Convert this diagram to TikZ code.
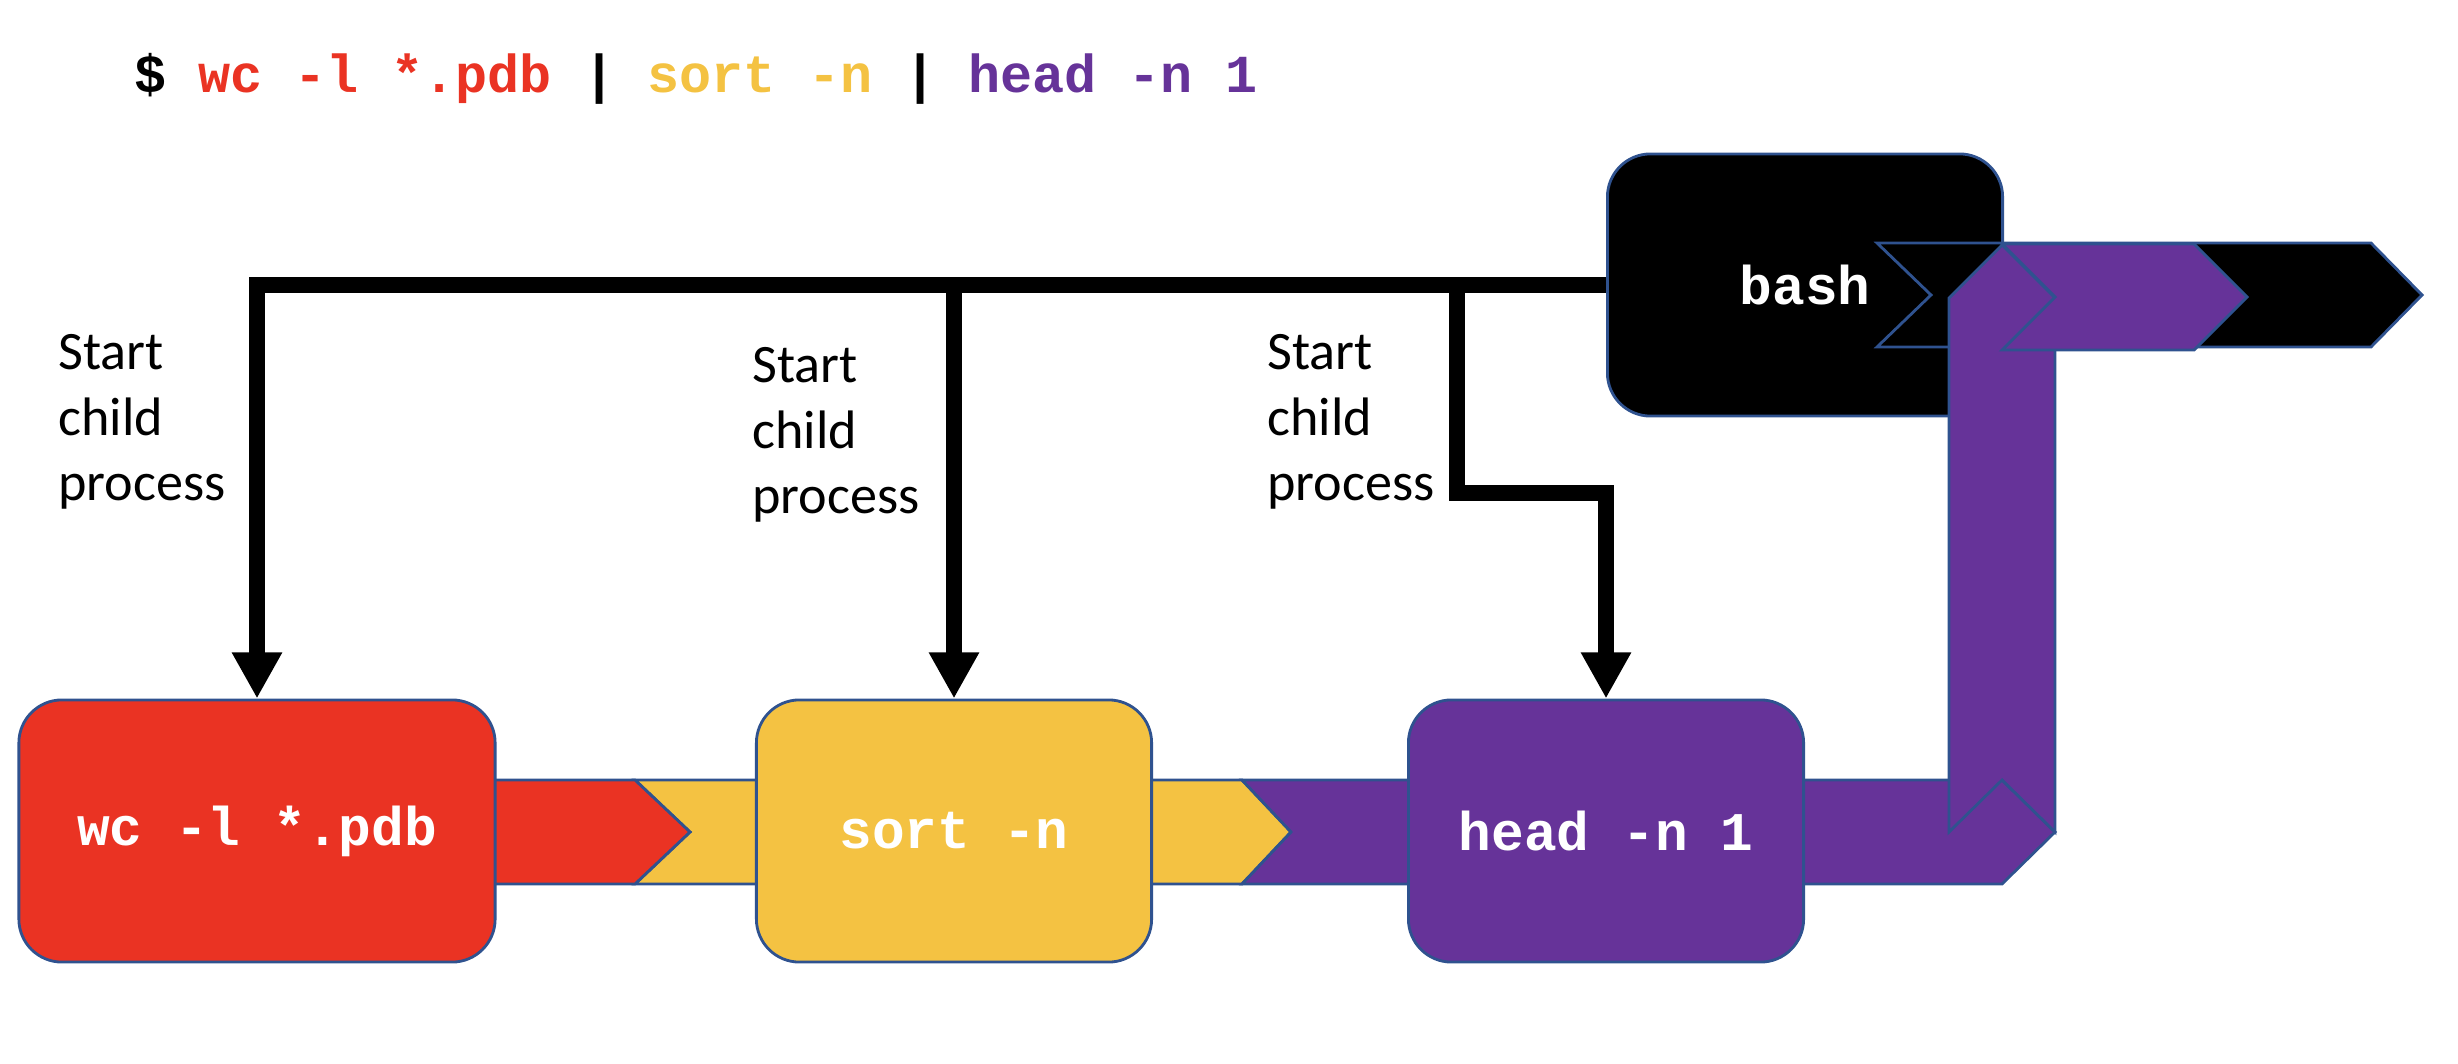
\documentclass[tikz,border=0pt]{standalone}
\usepackage{fontspec}
\setmonofont{Liberation Mono}
\newfontfamily\labelfont{Carlito}
\usetikzlibrary{arrows.meta}

\definecolor{wcred}{RGB}{234,51,35}
\definecolor{sortyellow}{RGB}{244,194,66}
\definecolor{headpurple}{RGB}{102,51,153}
\definecolor{edgeblue}{RGB}{47,82,143}

\tikzset{
    procbox/.style={draw=edgeblue, line width=0.8pt, rounded corners=0.43cm,
        minimum width=3.95cm, minimum height=2.62cm, text=white,
        font=\ttfamily\bfseries\fontsize{15.5}{18}\selectfont},
    pipe/.style={draw=edgeblue, line width=0.8pt},
    spawn/.style={line width=4.3pt, -{Triangle[width=0.47cm,length=0.46cm]}},
    note/.style={align=left, anchor=west, font=\labelfont\fontsize{15.4}{18.6}\selectfont},
}

\begin{document}
\begin{tikzpicture}[x=0.01cm,y=-0.01cm]
            \useasboundingbox (0,0) rectangle (2458,1064);

            % pipes between the processes
            \draw[pipe, fill=sortyellow] (635,780) -- (1242,780) -- (1291,832) -- (1242,884) -- (635,884) -- (690,832) -- cycle;
            \draw[pipe, fill=wcred] (460,780) -- (635,780) -- (690,832) -- (635,884) -- (460,884) -- cycle;
            \draw[pipe, fill=headpurple] (1242,780) -- (2002,780) -- (2055,832) -- (2002,884) -- (1242,884) -- (1291,832) -- cycle;

            \node[anchor=base west, font=\ttfamily\bfseries\fontsize{15.2}{18}\selectfont] (cmd) at (122,93)
                {\$ \textcolor{wcred}{wc -l *.pdb} | \textcolor{sortyellow}{sort -n} | \textcolor{headpurple}{head -n 1}};

            \node[procbox, fill=wcred, minimum width=4.76cm] (wc) at (257,831) {wc -l *.pdb};
            \node[procbox, fill=sortyellow] (sort) at (954,831) {sort -n};
            \node[procbox, fill=headpurple] (head) at (1606,831) {head -n 1};
            \node[procbox, fill=black] (bash) at (1805,285) {bash};

            % output back to the shell
            \draw[pipe, fill=black] (1877,243) -- (2371,243) -- (2422,295) -- (2371,347) -- (1877,347) -- (1931,295) -- cycle;
            \draw[pipe, fill=headpurple] (1949,832) -- (1949,298) -- (2002,245) -- (2055,298) -- (2055,832) -- (2002,780) -- cycle;
            \draw[pipe, fill=headpurple] (2002,244) -- (2194,244) -- (2247,297) -- (2194,350) -- (2002,350) -- (2055,297) -- cycle;

            \coordinate (bend) at (1457,493);

            \draw[spawn] (bash.west) -| (wc.north);
            \draw[spawn] (bash.west -| sort.north) -- (sort.north);
            \draw[spawn] (bash.west -| bend) -- (bend) -| (head.north);

            \node[note] (start1) at (46,422) {Start\\child\\process};
            \node[note] (start2) at (740,435) {Start\\child\\process};
            \node[note] (start3) at (1255,422) {Start\\child\\process};
\end{tikzpicture}
\end{document}
